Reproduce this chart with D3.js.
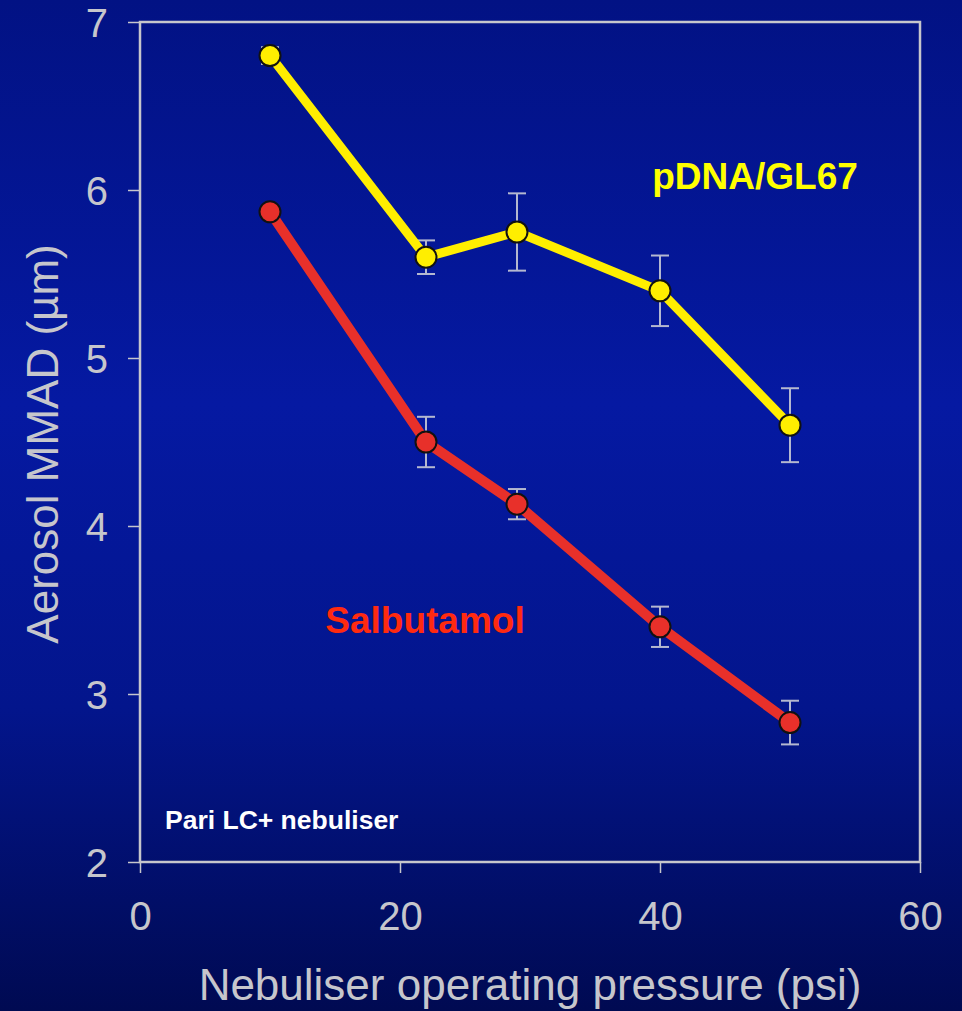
<!DOCTYPE html>
<html>
<head>
<meta charset="utf-8">
<script src="https://cdn.jsdelivr.net/npm/d3@7"></script>
<style>
  html, body { margin: 0; padding: 0; background: #021283; }
  svg { display: block; font-family: "Liberation Sans", Arial, sans-serif; }
</style>
</head>
<body>
<svg id="chart" width="962" height="1011"></svg>
<script>
// data
var pressure = [10, 22, 29, 40, 50];
var pdnaMmad = [6.8, 5.6, 5.75, 5.4, 4.6];
var pdnaErr = [0.05, 0.1, 0.23, 0.21, 0.22];
var salbMmad = [5.87, 4.5, 4.13, 3.4, 2.83];
var salbErr = [0.02, 0.15, 0.09, 0.12, 0.13];
var xTicks = [0, 20, 40, 60];
var yTicks = [2, 3, 4, 5, 6, 7];

var svg = d3.select('#chart');
var W = 962, H = 1011;
var margin = {left: 140, top: 22, right: 42, bottom: 149};

// background gradient
var defs = svg.append('defs');
var grad = defs.append('linearGradient').attr('id', 'bg')
  .attr('x1', 0).attr('y1', 0).attr('x2', 0).attr('y2', 1);
grad.append('stop').attr('offset', '0%').attr('stop-color', '#021284');
grad.append('stop').attr('offset', '40%').attr('stop-color', '#0519a2');
grad.append('stop').attr('offset', '70%').attr('stop-color', '#03158c');
grad.append('stop').attr('offset', '100%').attr('stop-color', '#000a52');
svg.append('rect').attr('width', W).attr('height', H).attr('fill', 'url(#bg)');

var x = d3.scaleLinear().domain([0, 60]).range([margin.left, W - margin.right]);
var y = d3.scaleLinear().domain([2, 7]).range([H - margin.bottom, margin.top]);

var axisColor = '#c6c6cc';

// frame
svg.append('rect')
  .attr('x', x(0)).attr('y', y(7))
  .attr('width', x(60) - x(0)).attr('height', y(2) - y(7))
  .attr('fill', 'none').attr('stroke', axisColor).attr('stroke-width', 2.5);

// axes
var yAxis = svg.append('g').attr('transform', 'translate(' + x(0) + ',0)')
  .call(d3.axisLeft(y).tickValues(yTicks).tickFormat(d3.format('d')).tickSize(12).tickPadding(20));
var xAxis = svg.append('g').attr('transform', 'translate(0,' + y(2) + ')')
  .call(d3.axisBottom(x).tickValues(xTicks).tickFormat(d3.format('d')).tickSize(11).tickPadding(29));
[xAxis, yAxis].forEach(function(g) {
  g.select('.domain').remove();
  g.selectAll('line').attr('stroke', axisColor).attr('stroke-width', 1.5);
  g.selectAll('text').attr('fill', axisColor).style('font-size', '40px')
    .style('font-family', '"Liberation Sans", Arial, sans-serif');
});
yAxis.selectAll('text').attr('dy', '0.36em');

// axis titles
svg.append('text')
  .attr('transform', 'translate(58,' + 444 + ') rotate(-90)')
  .attr('text-anchor', 'middle')
  .attr('fill', axisColor).style('font-size', '44px')
  .text('Aerosol MMAD (µm)');
svg.append('text')
  .attr('x', 530).attr('y', 1000)
  .attr('text-anchor', 'middle')
  .attr('fill', axisColor).style('font-size', '44px')
  .text('Nebuliser operating pressure (psi)');

var line = d3.line()
  .x(function(d) { return x(d[0]); })
  .y(function(d) { return y(d[1]); });

function drawSeries(vals, errs, color, lw) {
  var pts = pressure.map(function(p, i) { return [p, vals[i], errs[i]]; });
  var g = svg.append('g');
  // error bars
  var eb = g.selectAll('g.err').data(pts).enter().append('g')
    .attr('stroke', '#b4b8d0').attr('stroke-width', 2);
  eb.append('line')
    .attr('x1', function(d) { return x(d[0]); })
    .attr('x2', function(d) { return x(d[0]); })
    .attr('y1', function(d) { return y(d[1] + d[2]); })
    .attr('y2', function(d) { return y(d[1] - d[2]); });
  eb.append('line')
    .attr('x1', function(d) { return x(d[0]) - 9; })
    .attr('x2', function(d) { return x(d[0]) + 9; })
    .attr('y1', function(d) { return y(d[1] + d[2]); })
    .attr('y2', function(d) { return y(d[1] + d[2]); });
  eb.append('line')
    .attr('x1', function(d) { return x(d[0]) - 9; })
    .attr('x2', function(d) { return x(d[0]) + 9; })
    .attr('y1', function(d) { return y(d[1] - d[2]); })
    .attr('y2', function(d) { return y(d[1] - d[2]); });
  g.append('path').datum(pts)
    .attr('d', line)
    .attr('fill', 'none').attr('stroke', color)
    .attr('stroke-width', lw).attr('stroke-linejoin', 'round');
  g.selectAll('circle').data(pts).enter().append('circle')
    .attr('cx', function(d) { return x(d[0]); })
    .attr('cy', function(d) { return y(d[1]); })
    .attr('r', 10.5)
    .attr('fill', color).attr('stroke', '#111').attr('stroke-width', 2);
}

drawSeries(salbMmad, salbErr, '#e8302a', 10);
drawSeries(pdnaMmad, pdnaErr, '#ffee00', 9);

// labels
svg.append('text').attr('x', 755).attr('y', 189)
  .attr('text-anchor', 'middle').attr('fill', '#ffff00')
  .style('font-size', '37px').style('font-weight', 'bold')
  .text('pDNA/GL67');
svg.append('text').attr('x', 425).attr('y', 633)
  .attr('text-anchor', 'middle').attr('fill', '#ff2a10')
  .style('font-size', '37px').style('font-weight', 'bold')
  .text('Salbutamol');
svg.append('text').attr('x', 165).attr('y', 829)
  .attr('fill', '#ffffff')
  .style('font-size', '26.5px').style('font-weight', 'bold')
  .text('Pari LC+ nebuliser');
</script>
</body>
</html>
